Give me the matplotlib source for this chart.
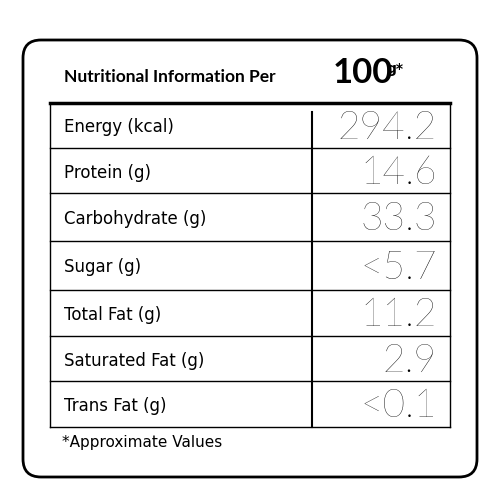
import matplotlib
matplotlib.use("Agg")
import matplotlib.pyplot as plt
from matplotlib.patches import FancyBboxPatch

labels = ["Energy (kcal)", "Protein (g)", "Carbohydrate (g)", "Sugar (g)",
          "Total Fat (g)", "Saturated Fat (g)", "Trans Fat (g)"]
values = ["294.2", "14.6", "33.3", "<5.7", "11.2", "2.9", "<0.1"]
row_lines = [103, 148, 193, 241, 290, 336, 381, 427]

fig = plt.figure(figsize=(5, 5), dpi=100)
ax = fig.add_axes([0, 0, 1, 1])
ax.set_xlim(0, 500); ax.set_ylim(500, 0); ax.axis("off")

ax.add_patch(FancyBboxPatch((23, 40), 454, 437, boxstyle="round,pad=0,rounding_size=18",
                            fill=False, lw=2, ec="black"))
ff = ["Lato", "DejaVu Sans"]
ax.text(64, 77, "Nutritional Information Per", fontsize=12.5, fontweight="bold",
        va="center", ha="left", family=["Lato", "DejaVu Sans"])
ax.text(333, 73, "100", fontsize=25, fontweight="bold", va="center", ha="left", family=ff)
ax.text(386, 69, "g*", fontsize=10, fontweight="bold", va="center", ha="left")

ax.plot([50, 450], [103, 103], color="black", lw=2.5)
for y in row_lines[1:]:
    ax.plot([50, 450], [y, y], color="black", lw=1)
ax.plot([50, 50], [103, 427], color="black", lw=1)
ax.plot([450, 450], [103, 427], color="black", lw=1)
ax.plot([312, 312], [112, 427], color="black", lw=1.5)

for i, (lab, val) in enumerate(zip(labels, values)):
    yc = (row_lines[i] + row_lines[i + 1]) / 2
    ax.text(64, yc + 2, lab, fontsize=12, va="center", ha="left")
    ax.text(437, yc + 2, val, fontsize=28, fontweight="light", va="center", ha="right", family=ff)

ax.text(62, 443, "*Approximate Values", fontsize=11, va="center", ha="left")
fig.savefig("out.png", dpi=100)
